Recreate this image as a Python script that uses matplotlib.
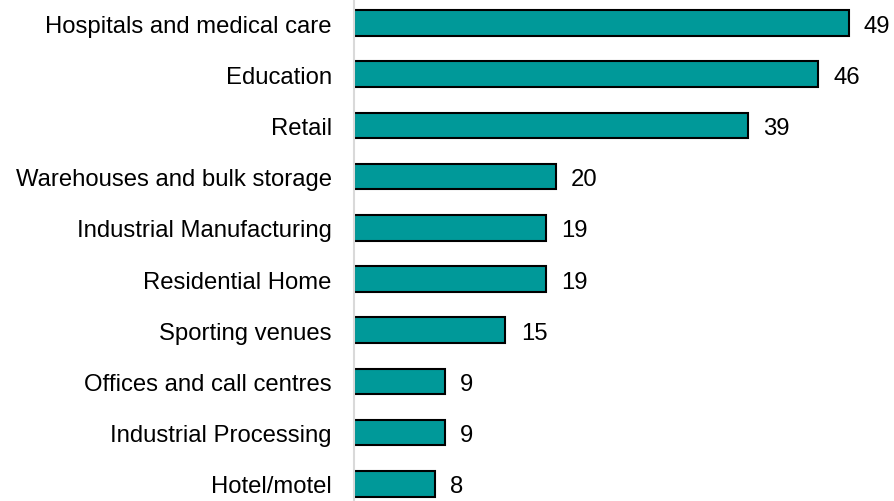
import matplotlib.pyplot as plt

# Categories and counts
categories = ['Hospitals and medical care', 'Education', 'Retail',
              'Warehouses and bulk storage', 'Industrial Manufacturing',
              'Residential Home', 'Sporting venues', 'Offices and call centres',
              'Industrial Processing', 'Hotel/motel']
values = [49, 46, 39, 20, 19, 19, 15, 9, 9, 8]

plt.rcParams['font.family'] = ['Liberation Sans', 'DejaVu Sans']

fig = plt.figure(figsize=(8.95, 5.02), dpi=100)
ax = fig.add_axes([354 / 895, 0, 1 - 354 / 895, 1])

y = list(range(len(categories)))
ax.barh(y, values, height=0.5, color='#009999', edgecolor='black', linewidth=1.5)

for yi, v in zip(y, values):
    ax.annotate(str(v), (v, yi), xytext=(11, 0), textcoords='offset points',
                va='center_baseline', ha='left', fontsize=17.2)

ax.set_xlim(0, 53.6)
ax.set_ylim(9.336, -0.469)
ax.set_yticks(y)
ax.set_yticklabels(categories, fontsize=17.2)
ax.tick_params(axis='y', length=0, pad=16)
ax.set_xticks([])

for side in ['top', 'right', 'bottom']:
    ax.spines[side].set_visible(False)
ax.spines['left'].set_color('#d9d9d9')
ax.spines['left'].set_linewidth(1.5)

fig.savefig('out.png', dpi=100)
